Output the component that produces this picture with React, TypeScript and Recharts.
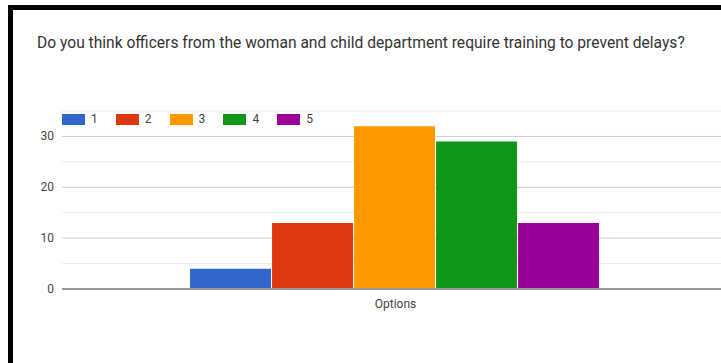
import React from 'react'
import {
  BarChart,
  Bar,
  XAxis,
  YAxis,
  CartesianGrid,
  Legend,
} from 'recharts'

const title =
  'Do you think officers from the woman and child department require training to prevent delays?'

const categories = ['Options']
const series = ['1', '2', '3', '4', '5']
const values = [[4, 13, 32, 29, 13]]
const colors = ['#3366cc', '#dc3912', '#ff9900', '#109618', '#990099']
const yTicks = [0, 5, 10, 15, 20, 25, 30, 35]

const data = categories.map((c, i) => {
  const row: Record<string, string | number> = { name: c }
  series.forEach((s, j) => {
    row[s] = values[i][j]
  })
  return row
})

const font = 'Roboto, Arial, sans-serif'

// major lines at every 10, lighter minor lines in between
const gridLine = (props: any) => (
  <line
    key={props.key}
    x1={props.x1}
    y1={props.y1}
    x2={props.x2}
    y2={props.y2}
    stroke={props.index % 2 === 0 ? '#cccccc' : '#ebebeb'}
    strokeWidth={1}
  />
)

const yTick = (props: any) => {
  const { x, y, payload } = props
  if (payload.value % 10 !== 0) return <g />
  return (
    <text x={x} y={y} dy={4} textAnchor="end" fontSize={12} fontFamily={font} fill="#444">
      {payload.value}
    </text>
  )
}

const legendContent = (props: any) => (
  <div style={{ display: 'flex', fontFamily: font, fontSize: 12, color: '#444' }}>
    {(props.payload || []).map((p: any) => (
      <div key={p.value} style={{ width: 53.8, display: 'flex', alignItems: 'center' }}>
        <span style={{ width: 23, height: 11, background: p.color, display: 'inline-block' }} />
        <span style={{ marginLeft: 6 }}>{p.value}</span>
      </div>
    ))}
  </div>
)

export default function App() {
  return (
    <div
      style={{
        position: 'fixed',
        left: 0,
        top: 0,
        width: 721,
        height: 363,
        overflow: 'hidden',
        background: '#fff',
      }}
    >
      <div
        style={{
          position: 'absolute',
          left: 8,
          top: 5,
          width: 760,
          height: 356,
          border: '5px solid #000',
          borderRight: 'none',
          boxSizing: 'content-box',
        }}
      />
      <div
        style={{
          position: 'absolute',
          left: 37,
          top: 34,
          fontFamily: font,
          fontSize: 15.6,
          color: '#333',
          whiteSpace: 'nowrap',
        }}
      >
        {title}
      </div>
      <div style={{ position: 'absolute', left: 0, top: 0 }}>
        <BarChart
          width={740}
          height={363}
          data={data}
          margin={{ top: 97, right: 11, bottom: 44, left: 0 }}
          barCategoryGap="19.2%"
          barGap={1}
        >
          <CartesianGrid vertical={false} horizontal={gridLine} />
          <XAxis
            dataKey="name"
            axisLine={{ stroke: '#999', strokeWidth: 2 }}
            tickLine={false}
            height={30}
            tick={{ fontSize: 12, fontFamily: font, fill: '#444' }}
            tickMargin={4}
          />
          <YAxis
            width={62}
            domain={[0, 35]}
            ticks={yTicks}
            interval={0}
            axisLine={false}
            tickLine={false}
            tick={yTick}
          />
          <Legend
            verticalAlign="top"
            align="left"
            content={legendContent}
            wrapperStyle={{ top: 112, left: 62, width: 300 }}
          />
          {series.map((s, i) => (
            <Bar key={s} dataKey={s} fill={colors[i]} isAnimationActive={false} />
          ))}
        </BarChart>
      </div>
    </div>
  )
}
